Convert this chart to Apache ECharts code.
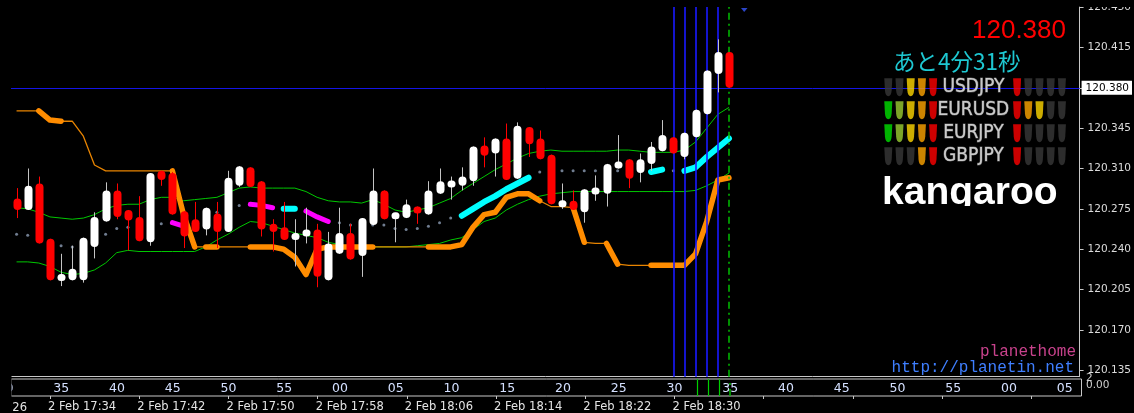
<!DOCTYPE html>
<html>
<head>
<meta charset="utf-8">
<script src="https://cdn.jsdelivr.net/npm/echarts@6/dist/echarts.min.js"></script>
<style>
html, body { margin: 0; padding: 0; background: #000; }
#chart { width: 1134px; height: 413px; }
</style>
</head>
<body>
<div id="chart"></div>
<script>
// 1 minute bars, 2 Feb 17:31 .. 18:35
var opens = [
	120.284, 120.274, 120.297, 120.249, 120.213, 120.213, 120.213, 120.242, 120.264, 120.291,
	120.274, 120.268, 120.246, 120.308, 120.306, 120.273, 120.266, 120.257, 120.271, 120.255,
	120.295, 120.311, 120.299, 120.262, 120.259, 120.249, 120.251, 120.257, 120.213, 120.236,
	120.254, 120.234, 120.261, 120.291, 120.267, 120.267, 120.277, 120.270, 120.288, 120.294,
	120.295, 120.299, 120.330, 120.323, 120.336, 120.301, 120.346, 120.336, 120.322, 120.278,
	120.282, 120.272, 120.288, 120.288, 120.310, 120.318, 120.306, 120.314, 120.325, 120.337,
	120.320, 120.337, 120.357, 120.392, 120.411
];
var closes = [
	120.274, 120.295, 120.245, 120.213, 120.218, 120.223, 120.250, 120.268, 120.291, 120.268,
	120.265, 120.247, 120.306, 120.300, 120.270, 120.251, 120.255, 120.276, 120.255, 120.302,
	120.312, 120.294, 120.257, 120.255, 120.248, 120.253, 120.257, 120.216, 120.245, 120.254,
	120.231, 120.267, 120.291, 120.266, 120.271, 120.279, 120.271, 120.291, 120.299, 120.299,
	120.303, 120.329, 120.321, 120.336, 120.300, 120.347, 120.331, 120.318, 120.279, 120.281,
	120.274, 120.292, 120.293, 120.314, 120.316, 120.301, 120.318, 120.329, 120.339, 120.323,
	120.341, 120.361, 120.395, 120.411, 120.380
];
var highs = [
	120.293, 120.310, 120.303, 120.249, 120.236, 120.243, 120.250, 120.272, 120.298, 120.297,
	120.274, 120.286, 120.306, 120.308, 120.307, 120.273, 120.281, 120.276, 120.281, 120.308,
	120.312, 120.311, 120.299, 120.266, 120.281, 120.266, 120.276, 120.262, 120.255, 120.276,
	120.262, 120.267, 120.310, 120.291, 120.271, 120.283, 120.277, 120.299, 120.310, 120.303,
	120.311, 120.329, 120.337, 120.336, 120.349, 120.350, 120.346, 120.343, 120.322, 120.297,
	120.291, 120.292, 120.304, 120.314, 120.339, 120.318, 120.323, 120.333, 120.352, 120.337,
	120.341, 120.361, 120.395, 120.422, 120.411
];
var lows = [
	120.267, 120.274, 120.245, 120.213, 120.208, 120.213, 120.211, 120.232, 120.264, 120.266,
	120.239, 120.247, 120.243, 120.295, 120.270, 120.241, 120.255, 120.252, 120.241, 120.255,
	120.294, 120.294, 120.251, 120.238, 120.248, 120.225, 120.245, 120.207, 120.213, 120.236,
	120.231, 120.216, 120.261, 120.266, 120.246, 120.267, 120.262, 120.270, 120.288, 120.283,
	120.291, 120.295, 120.311, 120.303, 120.300, 120.301, 120.320, 120.318, 120.279, 120.275,
	120.274, 120.263, 120.282, 120.277, 120.310, 120.293, 120.298, 120.308, 120.325, 120.323,
	120.318, 120.337, 120.357, 120.376, 120.380
];
// band lines
var upperBand = [
	120.276, 120.275, 120.272, 120.268, 120.267, 120.266, 120.267, 120.270, 120.275, 120.278,
	120.279, 120.279, 120.283, 120.285, 120.285, 120.282, 120.283, 120.284, 120.285, 120.289,
	120.293, 120.294, 120.293, 120.293, 120.293, 120.293, 120.290, 120.285, 120.282, 120.281,
	120.281, 120.280, 120.283, 120.279, 120.274, 120.272, 120.274, 120.276, 120.280, 120.284,
	120.291, 120.297, 120.303, 120.309, 120.314, 120.319, 120.323, 120.325, 120.326, 120.325,
	120.325, 120.325, 120.325, 120.325, 120.326, 120.326, 120.325, 120.324, 120.324, 120.324,
	120.326, 120.333, 120.345, 120.357, 120.363
];
var lowerBand = [
	120.229, 120.229, 120.228, 120.225, 120.220, 120.218, 120.219, 120.222, 120.228, 120.237,
	120.239, 120.238, 120.238, 120.238, 120.238, 120.238, 120.238, 120.242, 120.248, 120.253,
	120.259, 120.264, 120.263, 120.260, 120.257, 120.254, 120.252, 120.250, 120.246, 120.244,
	120.242, 120.242, 120.242, 120.242, 120.242, 120.242, 120.243, 120.244, 120.245, 120.248,
	120.250, 120.257, 120.264, 120.267, 120.274, 120.279, 120.283, 120.286, 120.288, 120.289,
	120.290, 120.290, 120.290, 120.290, 120.290, 120.290, 120.290, 120.290, 120.290, 120.290,
	120.290, 120.291, 120.295, 120.300, 120.306
];
// signal line: grey dots, magenta = down, cyan = up
var signalLine = [
	120.253, 120.252, 120.248, 120.245, 120.243, 120.242, 120.246, 120.250, 120.253, 120.258,
	120.259, 120.260, 120.261, 120.262, 120.263, 120.260, 120.263, 120.268, 120.272, 120.276,
	120.278, 120.279, 120.278, 120.276, 120.275, 120.275, 120.273, 120.268, 120.264, 120.263,
	120.261, 120.261, 120.261, 120.261, 120.258, 120.257, 120.258, 120.260, 120.263, 120.267,
	120.269, 120.275, 120.281, 120.286, 120.292, 120.297, 120.302, 120.307, 120.307, 120.308,
	120.308, 120.308, 120.308, 120.308, 120.308, 120.308, 120.308, 120.307, 120.309, 120.308,
	120.308, 120.311, 120.320, 120.328, 120.336
];
var magentaRuns = [[14, 15], [21, 23], [26, 28]];
var cyanRuns = [[24, 25], [40, 46], [57, 58], [60, 64]];
// trailing stop
var stopLine = [
	120.360, 120.360, 120.360, 120.352, 120.351, 120.351, 120.338, 120.313, 120.308, 120.308,
	120.308, 120.308, 120.308, 120.308, 120.308, 120.270, 120.242, 120.242, 120.242, 120.242,
	120.242, 120.242, 120.242, 120.242, 120.240, 120.233, 120.218, 120.240, 120.242, 120.242,
	120.242, 120.242, 120.242, 120.242, 120.242, 120.242, 120.242, 120.242, 120.242, 120.242,
	120.244, 120.259, 120.270, 120.272, 120.285, 120.288, 120.288, 120.282, 120.277, 120.277,
	120.276, 120.246, 120.245, 120.245, 120.227, 120.226, 120.226, 120.226, 120.226, 120.226,
	120.226, 120.236, 120.264, 120.300, 120.302
];
var stopThickRuns = [[2, 4], [14, 16], [17, 18], [21, 32], [37, 47], [50, 51], [53, 54], [57, 64]];

var currentPrice = 120.380;
var sessionLines = [59, 60, 61, 62, 63];
var subLines = [61, 62, 63];
var nowBar = 64;
var priceTicks = [120.135, 120.170, 120.205, 120.240, 120.275, 120.310, 120.345, 120.380, 120.415, 120.450];
// first label belongs to bar -5, first minute label to bar -1 (left of the window)
var timeLabels = ['2 Feb 17:26', '2 Feb 17:34', '2 Feb 17:42', '2 Feb 17:50', '2 Feb 17:58',
	'2 Feb 18:06', '2 Feb 18:14', '2 Feb 18:22', '2 Feb 18:30'];
var minuteLabels = ['30', '35', '40', '45', '50', '55', '00', '05', '10', '15',
	'20', '25', '30', '35', '40', '45', '50', '55', '00', '05'];

var pairNames = ['USDJPY', 'EURUSD', 'EURJPY', 'GBPJPY'];
var leftLights = [[0, 0, 3, 4, 5], [1, 2, 3, 4, 5], [1, 2, 3, 4, 5], [0, 0, 0, 4, 5]];
var rightLights = [[5, 0, 0, 0, 0], [5, 4, 3, 0, 0], [5, 0, 0, 0, 0], [5, 0, 0, 0, 0]];
var countdown = 'あと4分31秒';

var lightColors = ['#383838', '#00e000', '#9acd32', '#ffd700', '#ffa500', '#ff0000'];

var slotCount = 96;
var plotLeft = 11, plotRight = 52.5;

function initChart() {
	var dom = document.getElementById('chart');
	var myChart = echarts.init(dom, null, { renderer: 'canvas' });
	var slotW = (1134 - plotLeft - plotRight) / slotCount;

	var slots = [], timeSlots = [], minuteSlots = [];
	for (var k = 0; k < slotCount; k++) {
		slots.push(String(k));
		timeSlots.push((k + 5) % 8 === 0 ? timeLabels[(k + 5) / 8] || '' : '');
		minuteSlots.push((k + 1) % 5 === 0 ? minuteLabels[(k + 1) / 5] || '' : '');
	}

	function runData(values, run) {
		return values.map(function(v, i) { return (i >= run[0] && i <= run[1]) ? v : null; });
	}
	function inRuns(i, runs) {
		return runs.some(function(r) { return i >= r[0] && i <= r[1]; });
	}

	var candleData = opens.map(function(o, i) { return [i, o, closes[i], lows[i], highs[i]]; });

	function renderCandle(params, api) {
		var k = api.value(0);
		var o = api.value(1), c = api.value(2);
		var pO = api.coord([k, o]), pC = api.coord([k, c]);
		var pL = api.coord([k, api.value(3)]), pH = api.coord([k, api.value(4)]);
		var up = c >= o;
		var x = Math.round(pO[0]) + 0.5;
		var top = Math.min(pO[1], pC[1]), bot = Math.max(pO[1], pC[1]);
		if (bot - top < 7) {
			var m = (top + bot) / 2;
			top = m - 3.5; bot = m + 3.5;
		}
		var w = 8;
		return {
			type: 'group',
			children: [{
				type: 'line',
				shape: { x1: x, y1: pH[1], x2: x, y2: pL[1] },
				style: { stroke: up ? '#c4c4c4' : '#ff0000', lineWidth: 1 }
			}, {
				type: 'rect',
				shape: { x: x - w / 2, y: top, width: w, height: bot - top, r: 4 },
				style: { fill: up ? '#ffffff' : '#ff0000' }
			}]
		};
	}

	var series = [];

	series.push({
		name: 'upper', type: 'line', data: upperBand, xAxisIndex: 0, yAxisIndex: 0,
		symbol: 'none', z: 1, lineStyle: { color: '#00c800', width: 1 },
		markLine: {
			silent: true, symbol: 'none', animation: false,
			data: [{
				yAxis: currentPrice,
				lineStyle: { color: '#1414e6', width: 1, type: 'solid' },
				label: {
					show: true, position: 'end', distance: 2,
					formatter: currentPrice.toFixed(3),
					color: '#000', backgroundColor: '#ffffff',
					fontFamily: 'DejaVu Sans', fontSize: 10.5, padding: [2, 3, 1, 4]
				}
			}].concat(sessionLines.map(function(k) {
				return { xAxis: k, lineStyle: { color: '#1a1aff', width: 1.6, type: 'solid' }, label: { show: false } };
			})).concat([{
				xAxis: nowBar, lineStyle: { color: '#00c000', width: 1.5, type: [7, 4, 2, 4] }, label: { show: false }
			}])
		}
	});
	series.push({
		name: 'lower', type: 'line', data: lowerBand, symbol: 'none', z: 1,
		lineStyle: { color: '#00c800', width: 1 }
	});
	series.push({
		name: 'signal', type: 'scatter', z: 1, symbolSize: 3,
		itemStyle: { color: '#8c9cb4' },
		data: signalLine.map(function(v, i) {
			return (inRuns(i, magentaRuns) || inRuns(i, cyanRuns)) ? '-' : v;
		})
	});
	series.push({
		name: 'stop', type: 'line', data: stopLine, symbol: 'none', z: 2,
		lineStyle: { color: '#e88400', width: 1.3 }
	});
	stopThickRuns.forEach(function(run) {
		series.push({
			type: 'line', data: runData(stopLine, run), symbol: 'none', z: 2,
			lineStyle: { color: '#ff8c00', width: 5.5, cap: 'round', join: 'round' }
		});
	});
	magentaRuns.forEach(function(run) {
		series.push({
			type: 'line', data: runData(signalLine, run), symbol: 'none', z: 3,
			lineStyle: { color: '#ff00ff', width: 5, cap: 'round', join: 'round' }
		});
	});
	cyanRuns.forEach(function(run) {
		series.push({
			type: 'line', data: runData(signalLine, run), symbol: 'none', z: 3,
			lineStyle: { color: '#00ffff', width: 6, cap: 'round', join: 'round' }
		});
	});
	series.push({
		name: 'price', type: 'custom', renderItem: renderCandle, data: candleData, z: 5,
		encode: { x: 0, y: [1, 2, 3, 4] }, clip: true
	});

	// sub window
	series.push({
		type: 'line', xAxisIndex: 1, yAxisIndex: 1, data: [], z: 3,
		markLine: {
			silent: true, symbol: 'none', animation: false, label: { show: false },
			data: subLines.map(function(k) {
				return { xAxis: k, lineStyle: { color: '#00d000', width: 1.2, type: 'solid' } };
			}).concat([{ xAxis: nowBar, lineStyle: { color: '#00c000', width: 1.5, type: [7, 4, 2, 4] } }])
		}
	});
	series.push({ type: 'line', xAxisIndex: 2, yAxisIndex: 1, data: [] });

	// currency strength panel
	var lightData = [];
	pairNames.forEach(function(p, r) {
		leftLights[r].forEach(function(lv, c) { lightData.push([c, r, lv]); });
		rightLights[r].forEach(function(lv, c) { lightData.push([11.5 + c, r, lv]); });
	});
	series.push({
		type: 'scatter', xAxisIndex: 3, yAxisIndex: 2, z: 6,
		symbol: 'path://M0,0 L10,0 L9.2,15 Q8.6,22 5,22 Q1.4,22 0.8,15 Z',
		symbolSize: [8, 18],
		itemStyle: { color: function(p) { return lightColors[p.data[2]]; } },
		data: lightData
	});
	series.push({
		type: 'scatter', xAxisIndex: 3, yAxisIndex: 2, z: 6, symbolSize: 1,
		itemStyle: { color: 'rgba(0,0,0,0)' },
		label: {
			show: true, position: 'inside',
			formatter: function(p) { return p.data[2]; },
			color: '#f4f4f4', fontFamily: '"Liberation Sans Narrow", "DejaVu Sans Condensed", sans-serif',
			fontSize: 19, textBorderColor: '#6a6a6a', textBorderWidth: 1
		},
		data: pairNames.map(function(p, r) { return [7.6, r, p]; })
	});

	var axisGray = '#c8c8c8';
	var option = {
		backgroundColor: '#000000',
		animation: false,
		grid: [
			{ left: plotLeft, right: plotRight, top: 7.1, height: 369.6 },
			{ left: plotLeft, right: plotRight, top: 379, height: 18.3, show: true, borderColor: axisGray, borderWidth: 1, backgroundColor: 'transparent' },
			{ left: 877.1, top: 75.8, width: 190.4, height: 92 }
		],
		xAxis: [{
			gridIndex: 0, type: 'category', data: slots, boundaryGap: true,
			axisLine: { show: true, lineStyle: { color: axisGray } },
			axisTick: { show: false }, axisLabel: { show: false }, splitLine: { show: false }
		}, {
			gridIndex: 1, type: 'category', data: minuteSlots, boundaryGap: true, position: 'top',
			axisLine: { show: false }, axisTick: { show: false },
			axisLabel: {
				interval: 0, inside: true, margin: 3.5, color: '#d4e0ff',
				fontFamily: 'DejaVu Sans', fontSize: 12.5
			}
		}, {
			gridIndex: 1, type: 'category', data: timeSlots, boundaryGap: true, position: 'bottom',
			axisLine: { show: false },
			axisTick: {
				show: true, alignWithLabel: true, length: 3, lineStyle: { color: axisGray },
				interval: function(i) { return (i + 5) % 8 === 0; }
			},
			axisLabel: {
				interval: 0, align: 'left', margin: 5, color: '#e4e4e4',
				fontFamily: 'DejaVu Sans', fontSize: 11.5, padding: [0, 0, 0, -2]
			}
		}, {
			gridIndex: 2, type: 'value', min: -1, max: 16, show: false
		}],
		yAxis: [{
			gridIndex: 0, type: 'value', position: 'right', min: 120.1294, max: 120.450, scale: true,
			axisLine: { show: true, lineStyle: { color: axisGray } },
			axisTick: { show: true, length: 4, lineStyle: { color: axisGray }, customValues: priceTicks },
			axisLabel: {
				customValues: priceTicks, margin: 8, color: '#dcdcdc',
				fontFamily: 'DejaVu Sans', fontSize: 10.5,
				formatter: function(v) { return v.toFixed(3); }
			},
			splitLine: { show: false }
		}, {
			gridIndex: 1, type: 'value', min: 0, max: 1, show: false
		}, {
			gridIndex: 2, type: 'value', min: -0.5, max: 3.5, inverse: true, show: false
		}],
		graphic: [
			// labels of bars left of the window, clipped by the window edge
			{
				type: 'text', z: 40, x: plotLeft + (-5 + 0.5) * slotW - 2, y: 402.3,
				style: { text: timeLabels[0], fill: '#e4e4e4', font: '11.5px "DejaVu Sans"', align: 'left', verticalAlign: 'top' }
			}, {
				type: 'text', z: 40, x: plotLeft + (-1 + 0.5) * slotW, y: 382.5,
				style: { text: minuteLabels[0], fill: '#d4e0ff', font: '12.5px "DejaVu Sans"', align: 'center', verticalAlign: 'top' }
			},
			{ type: 'rect', z: 100, shape: { x: 0, y: 370, width: 11.5, height: 43 }, style: { fill: '#000' } },
			{ type: 'rect', z: 100, shape: { x: 1083, y: 0, width: 51, height: 7 }, style: { fill: '#000' } },
			{ type: 'polygon', z: 50, shape: { points: [[741, 8], [747.5, 8], [744.2, 12]] }, style: { fill: '#2a44c8' } },
			{
				type: 'text', z: 50, x: 1066, y: 31,
				style: { text: closes[closes.length - 1].toFixed(3), fill: '#ff0000', font: '26px "Liberation Sans"', align: 'right', verticalAlign: 'middle' }
			}, {
				type: 'text', z: 50, x: 893, y: 61,
				style: { text: countdown, fill: '#1ec8d2', font: '22.5px "Noto Sans CJK JP"', align: 'left', verticalAlign: 'middle' }
			}, {
				type: 'text', z: 50, x: 882, y: 193,
				style: { text: 'kangaroo', fill: '#ffffff', font: 'bold 39px "Liberation Sans"', align: 'left', verticalAlign: 'middle' }
			},
			{ type: 'rect', z: 60, shape: { x: 878, y: 206, width: 186, height: 10 }, style: { fill: '#000' } },
			{
				type: 'text', z: 50, x: 1076, y: 352,
				style: { text: 'planethome', fill: '#c8428c', font: '16px "Liberation Mono"', align: 'right', verticalAlign: 'middle' }
			}, {
				type: 'text', z: 50, x: 1074, y: 368,
				style: { text: 'http://planetin.net', fill: '#3f7fff', font: '16px "Liberation Mono"', align: 'right', verticalAlign: 'middle' }
			}, {
				type: 'text', z: 50, x: 1086, y: 378,
				style: { text: '2', fill: '#cfcfcf', font: '10.5px "DejaVu Sans"', align: 'left', verticalAlign: 'middle' }
			}, {
				type: 'text', z: 50, x: 1086, y: 385,
				style: { text: '0.00', fill: '#cfcfcf', font: '10.5px "DejaVu Sans"', align: 'left', verticalAlign: 'middle' }
			}
		],
		series: series
	};

	myChart.setOption(option, true);
}

onload = function() {
	initChart();
};
</script>
</body>
</html>
